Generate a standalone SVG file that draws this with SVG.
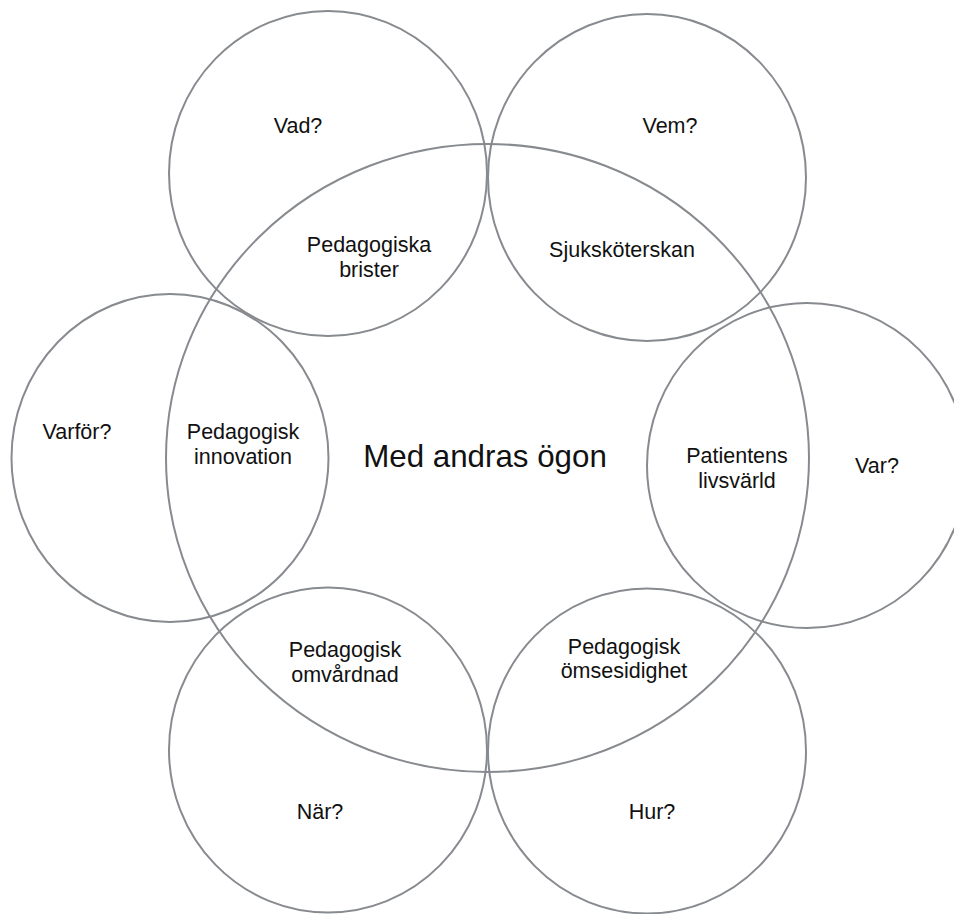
<svg xmlns="http://www.w3.org/2000/svg" width="954" height="914" viewBox="0 0 954 914">
<style>
.c{fill:none;stroke:#878a8f;stroke-width:2}
.t{font-family:"Liberation Sans",Arial,sans-serif;font-size:21.5px;fill:#111;text-anchor:middle}
.big{font-size:31.3px}
</style>
<rect width="954" height="914" fill="#fff"/>
<g id="vad"><ellipse class="c" cx="328" cy="173.5" rx="159" ry="162.5"/><text class="t" x="298" y="133">Vad?</text></g>
<g id="vem"><ellipse class="c" cx="647" cy="177.5" rx="159" ry="163.5"/><text class="t" x="670" y="133">Vem?</text></g>
<g id="varfor"><ellipse class="c" cx="170" cy="458" rx="158.5" ry="164"/><text class="t" x="77" y="439">Varför?</text></g>
<g id="var"><ellipse class="c" cx="807" cy="465.5" rx="160" ry="162.5"/><text class="t" x="877" y="473">Var?</text></g>
<g id="nar"><ellipse class="c" cx="328" cy="750" rx="159" ry="162.5"/><text class="t" x="320" y="819">När?</text></g>
<g id="hur"><ellipse class="c" cx="647" cy="751" rx="159" ry="162.5"/><text class="t" x="652" y="819">Hur?</text></g>
<g id="center"><ellipse class="c" cx="487.5" cy="458" rx="321.5" ry="314"/><text class="t big" x="485" y="467">Med andras ögon</text></g>
<g id="pedagogiska-brister"><text class="t" x="369" y="252">Pedagogiska</text><text class="t" x="369" y="277">brister</text></g>
<g id="sjukskoterskan"><text class="t" x="622" y="257">Sjuksköterskan</text></g>
<g id="pedagogisk-innovation"><text class="t" x="243" y="439">Pedagogisk</text><text class="t" x="243" y="464">innovation</text></g>
<g id="patientens-livsvarld"><text class="t" x="737" y="463">Patientens</text><text class="t" x="737" y="488">livsvärld</text></g>
<g id="pedagogisk-omvardnad"><text class="t" x="345" y="657">Pedagogisk</text><text class="t" x="345" y="682">omvårdnad</text></g>
<g id="pedagogisk-omsesidighet"><text class="t" x="624" y="654">Pedagogisk</text><text class="t" x="624" y="678">ömsesidighet</text></g>
<g id="connectors"></g>
</svg>
